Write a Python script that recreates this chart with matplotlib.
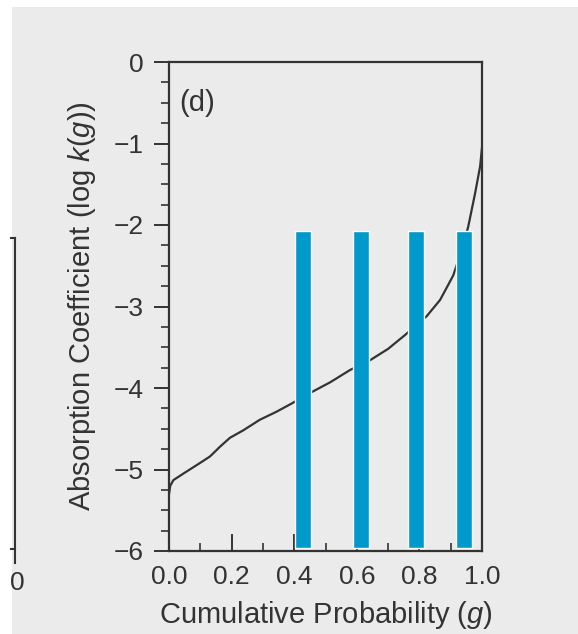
import numpy as np
import matplotlib
matplotlib.use("Agg")
import matplotlib.pyplot as plt
from matplotlib.patches import Rectangle
from matplotlib.lines import Line2D

# k-distribution curve
g_vals = [0.0, 0.004, 0.014, 0.046, 0.099, 0.131, 0.163, 0.195, 0.237, 0.29,
          0.344, 0.392, 0.456, 0.515, 0.578, 0.642, 0.70, 0.754, 0.823, 0.866,
          0.908, 0.94, 0.956, 0.978, 0.994, 1.0]
logk_vals = [-5.30, -5.20, -5.13, -5.05, -4.92, -4.84, -4.72, -4.61, -4.52, -4.39,
             -4.29, -4.19, -4.05, -3.93, -3.78, -3.66, -3.52, -3.35, -3.12, -2.92,
             -2.62, -2.25, -2.02, -1.61, -1.28, -1.05]

# overlaid blue bars
bar_g = [0.428, 0.613, 0.789, 0.942]
bar_top = [-2.07, -2.07, -2.07, -2.07]
bar_bottom = [-5.96, -5.96, -5.96, -5.96]

yticks = [0, -1, -2, -3, -4, -5, -6]
xticks = [0.0, 0.2, 0.4, 0.6, 0.8, 1.0]
xtick_labels = ["0.0", "0.2", "0.4", "0.6", "0.8", "1.0"]

plt.rcParams['font.family'] = ['Liberation Sans', 'DejaVu Sans']
plt.rcParams['mathtext.fontset'] = 'custom'
plt.rcParams['mathtext.rm'] = 'Liberation Sans'
plt.rcParams['mathtext.it'] = 'Liberation Sans:italic'

W, H = 578, 634
fig = plt.figure(figsize=(W / 100, H / 100), dpi=100, facecolor='white')

ink = '#333333'
paper = '#ebebeb'

# scanned page background
fig.patches.append(Rectangle((12 / W, 0), 1, (H - 7) / H, transform=fig.transFigure,
                             facecolor=paper, edgecolor='none', zorder=-5))

# bit of the neighbouring panel on the left
def px_line(x0, y0, x1, y1):
    fig.lines.append(Line2D([x0 / W, x1 / W], [1 - y0 / H, 1 - y1 / H],
                            transform=fig.transFigure, color=ink, lw=1.5, zorder=-1))

px_line(15, 238, 15, 563)
px_line(11, 238, 15, 238)
px_line(11, 549, 15, 549)
fig.text(17 / W, 1 - 583 / H, "0", fontsize=19, color=ink, ha='center', va='center', zorder=-1)

ax = fig.add_axes([169 / W, (H - 551) / H, 313 / W, 489 / H])
ax.patch.set_alpha(0)

ax.plot(g_vals, logk_vals, color=ink, lw=1.6, zorder=2)
heights = np.array(bar_top) - np.array(bar_bottom)
ax.bar(bar_g, heights, bottom=bar_bottom, width=0.051, color='#0099cc',
       edgecolor='white', linewidth=1.0, zorder=3)

ax.set_xlim(0, 1)
ax.set_ylim(-6, 0)

for s in ax.spines.values():
    s.set_color(ink)
    s.set_linewidth(1.6)

ax.set_yticks(yticks)
ax.set_yticklabels([str(v).replace('-', '\u2212') for v in yticks])
ax.set_yticks(np.arange(-6, 0.01, 0.25), minor=True)
ax.set_xticks(xticks)
ax.set_xticklabels(xtick_labels)
ax.set_xticks(np.arange(0.1, 1.0, 0.2), minor=True)

ax.tick_params(axis='y', which='major', direction='out', length=11, width=1.4,
               color=ink, labelsize=19, labelcolor=ink, pad=7)
ax.tick_params(axis='y', which='minor', direction='out', length=5.5, width=1.2, color=ink)
ax.tick_params(axis='x', which='major', direction='in', length=12, width=1.4,
               color=ink, labelsize=19, labelcolor=ink, pad=10)
ax.tick_params(axis='x', which='minor', direction='in', length=6, width=1.2, color=ink)

ax.set_ylabel("Absorption Coefficient (log $k$($g$))", fontsize=21, color=ink)
ax.yaxis.set_label_coords(-0.228, 0.5)
ax.set_xlabel("Cumulative Probability ($g$)", fontsize=21, color=ink, va='top')
ax.xaxis.set_label_coords(0.5, -0.099)

ax.text(0.032, 0.945, "(d)", transform=ax.transAxes, fontsize=21, color=ink,
        ha='left', va='top')

fig.savefig("out.png", dpi=100, facecolor='white')
